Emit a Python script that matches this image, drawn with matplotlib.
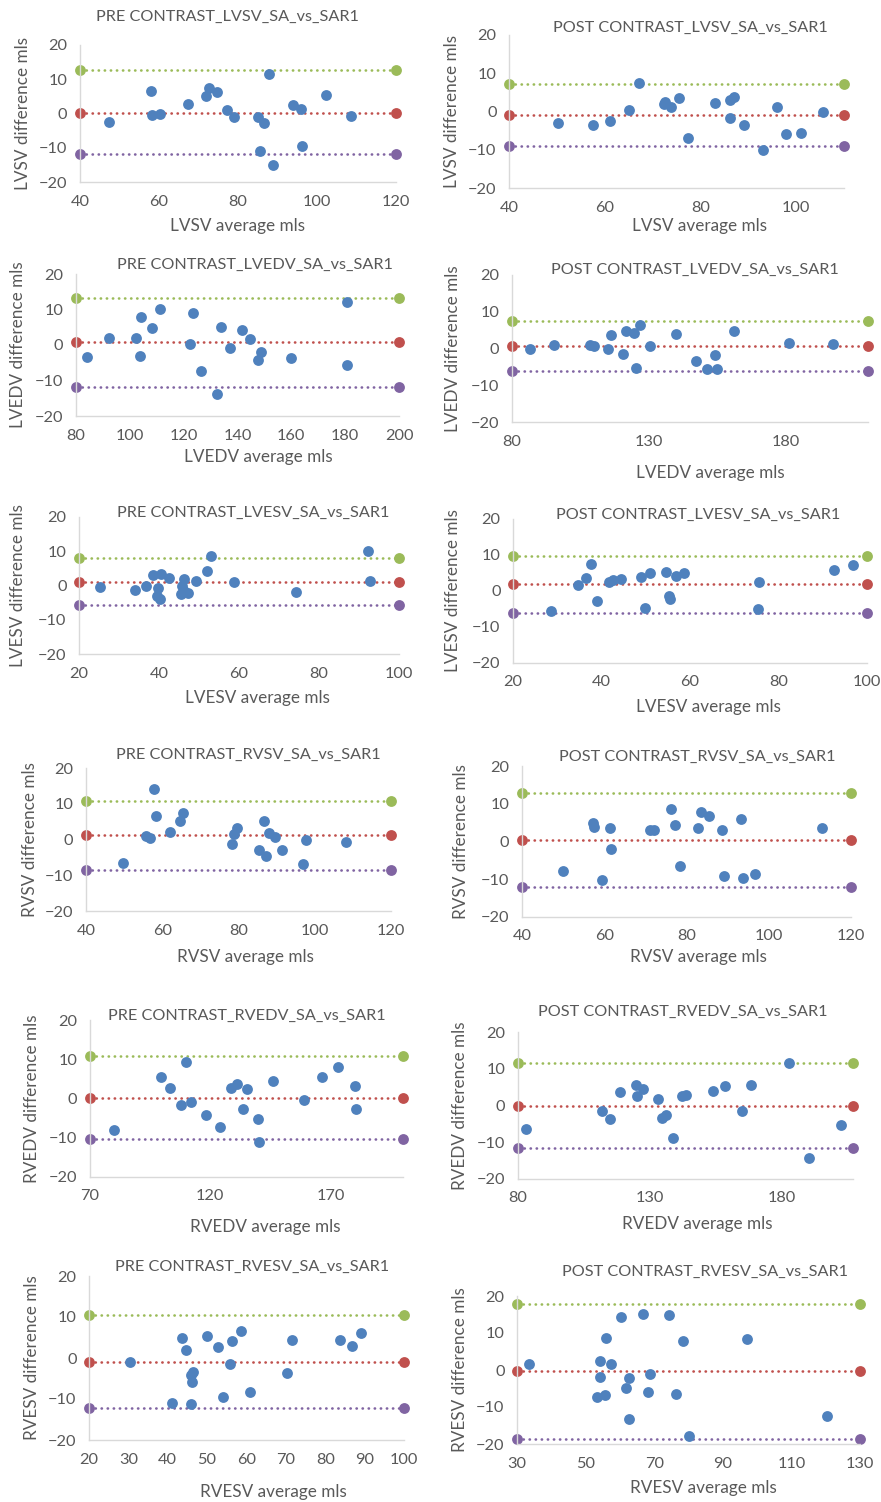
import matplotlib
matplotlib.use("Agg")
import matplotlib.pyplot as plt

plt.rcParams['font.family'] = ['Lato', 'DejaVu Sans']

# --- data (average, difference) ---
pre_lvsv_avg = [58.1, 58.3, 60.3, 47.3, 67.3, 71.9, 72.7, 74.7, 77.1, 79.0,
                85.1, 86.7, 87.8, 85.6, 88.9, 93.8, 95.9, 96.1, 102.3, 108.5]
pre_lvsv_diff = [6.6, -0.3, 0.0, -2.6, 2.8, 5.2, 7.5, 6.3, 1.0, -1.0,
                 -1.0, -2.8, 11.5, -10.9, -15.0, 2.5, 1.2, -9.6, 5.3, -0.6]
pre_lvsv_loa = [12.7, 0.2, -11.9]

post_lvsv_avg = [50.3, 57.6, 61.1, 65.1, 67.1, 72.4, 72.7, 73.8, 75.5, 77.5,
                 83.1, 86.2, 87.1, 86.2, 89.2, 93.1, 96.1, 97.9, 101.0, 105.7]
post_lvsv_diff = [-3.0, -3.6, -2.5, 0.5, 7.4, 2.0, 2.4, 1.3, 3.5, -6.8,
                  2.2, 3.0, 3.7, -1.7, -3.6, -10.0, 1.3, -5.8, -5.5, -0.1]
post_lvsv_loa = [7.3, -0.9, -9.0]

pre_lvedv_avg = [84.0, 92.2, 102.4, 103.6, 104.1, 108.2, 111.3, 122.4, 123.5, 126.5,
                 132.5, 133.8, 137.2, 141.6, 144.8, 147.8, 148.8, 159.7, 180.6, 180.8]
pre_lvedv_diff = [-3.5, 2.0, 1.9, -3.1, 8.0, 4.7, 10.2, 0.3, 9.1, -7.3,
                  -13.9, 5.2, -0.8, 4.2, 1.8, -4.2, -1.9, -3.6, 12.1, -5.7]
pre_lvedv_loa = [13.2, 0.75, -11.7]

post_lvedv_avg = [86.7, 95.3, 108.4, 109.9, 115.2, 116.2, 120.4, 121.5, 124.5, 125.1,
                  126.8, 130.5, 139.8, 147.3, 151.3, 154.1, 154.9, 161.2, 181.1, 197.1]
post_lvedv_diff = [-0.1, 0.9, 0.9, 0.7, 0.0, 3.6, -1.5, 4.7, 4.2, -5.2,
                   6.4, 0.7, 4.0, -3.5, -5.5, -1.8, -5.5, 4.8, 1.6, 1.2]
post_lvedv_loa = [7.45, 0.64, -6.2]

pre_lvesv_avg = [25.3, 34.1, 36.7, 38.5, 39.75, 39.5, 40.2, 40.5, 42.6, 45.4, 45.8,
                 46.3, 46.25, 47.2, 49.3, 51.9, 53.0, 58.8, 74.3, 92.3, 92.7]
pre_lvesv_diff = [-0.3, -1.3, -0.2, 3.0, -0.6, -3.2, -3.9, 3.3, 2.3, -2.6, -0.2,
                  2.0, -1.5, -2.2, 1.4, 4.3, 8.6, 1.0, -2.0, 9.95, 1.3]
pre_lvesv_loa = [7.9, 1.07, -5.76]

post_lvesv_avg = [28.6, 34.7, 36.5, 37.7, 38.9, 41.6, 42.6, 44.3, 48.9, 49.8,
                  51.0, 54.6, 55.3, 55.5, 56.9, 58.7, 75.6, 75.3, 92.6, 96.8]
post_lvesv_diff = [-5.6, 1.7, 3.5, 7.4, -2.7, 2.6, 3.0, 3.3, 3.8, -4.65,
                   5.1, 5.4, -1.4, -2.3, 4.3, 4.9, 2.5, -5.0, 5.7, 7.35]
post_lvesv_loa = [9.86, 1.86, -6.05]

pre_rvsv_avg = [49.7, 55.8, 56.9, 57.8, 58.4, 62.0, 64.6, 65.4, 78.2, 78.7,
                79.5, 85.3, 86.6, 87.3, 88.0, 89.7, 91.4, 96.8, 97.6, 108.1]
pre_rvsv_diff = [-6.7, 1.0, 0.4, 14.2, 6.5, 2.0, 5.1, 7.5, -1.3, 1.5,
                 3.1, -2.9, 5.3, -4.5, 1.8, 0.65, -2.9, -6.8, -0.2, -0.6]
pre_rvsv_loa = [10.65, 1.2, -8.4]

post_rvsv_avg = [50.0, 57.2, 57.5, 59.4, 61.3, 61.6, 71.2, 72.1, 76.2, 77.3,
                 78.4, 82.9, 83.5, 85.4, 88.6, 89.1, 93.2, 93.8, 96.6, 112.9]
post_rvsv_diff = [-7.7, 5.0, 3.8, -10.1, 3.6, -2.0, 3.0, 3.1, 8.7, 4.4,
                  -6.6, 3.7, 7.7, 6.8, 3.1, -9.1, 6.05, -9.65, -8.7, 3.6]
post_rvsv_loa = [12.85, 0.3, -12.0]

pre_rvedv_avg = [79.8, 99.3, 103.2, 108.0, 109.8, 112.0, 118.1, 124.1, 128.4, 131.1,
                 133.6, 135.1, 139.8, 140.3, 145.9, 158.7, 166.3, 172.8, 180.0, 180.4]
pre_rvedv_diff = [-7.9, 5.5, 2.8, -1.7, 9.3, -1.0, -4.3, -7.2, 2.7, 3.7,
                  -2.55, 2.4, -5.1, -11.1, 4.4, -0.4, 5.6, 7.9, 3.1, -2.55]
pre_rvedv_loa = [10.8, 0.1, -10.4]

post_rvedv_avg = [82.9, 111.9, 114.9, 118.7, 124.8, 125.2, 127.5, 132.9, 134.5, 136.0,
                  138.6, 142.3, 143.7, 153.9, 158.6, 165.0, 168.4, 182.6, 190.2, 202.5]
post_rvedv_diff = [-6.4, -1.45, -3.7, 3.8, 5.45, 2.6, 4.45, 1.7, -3.45, -2.7,
                   -8.8, 2.55, 2.9, 3.9, 5.3, -1.4, 5.55, 11.45, -14.4, -5.2]
post_rvedv_loa = [11.45, 0.0, -11.45]

pre_rvesv_avg = [30.3, 41.1, 43.6, 44.7, 45.8, 46.0, 46.2, 46.5, 50.0, 52.8,
                 54.0, 55.8, 56.4, 58.6, 60.8, 70.3, 71.6, 83.7, 86.7, 89.2]
pre_rvesv_diff = [-1.05, -10.9, 4.8, 2.0, -11.3, -4.1, -5.8, -3.5, 5.4, 2.6,
                  -9.4, -1.5, 4.1, 6.5, -8.2, -3.6, 4.4, 4.4, 3.0, 6.1]
pre_rvesv_loa = [10.5, -0.9, -12.1]

post_rvesv_avg = [33.4, 53.4, 54.1, 54.2, 55.8, 56.0, 57.4, 60.4, 61.8, 62.7,
                  62.7, 66.8, 68.1, 68.8, 74.2, 76.3, 78.3, 80.2, 97.0, 120.3]
post_rvesv_diff = [1.7, -7.3, 2.4, -1.9, -6.7, 8.6, 1.5, 14.3, -4.9, -2.1,
                   -13.2, 15.2, -6.0, -1.2, 14.9, -6.4, 7.9, -17.9, 8.4, -12.3]
post_rvesv_loa = [17.9, -0.35, -18.55]

BLUE = '#4F81BD'
GREEN = '#9BBB59'
RED = '#C0504D'
PURPLE = '#8064A2'
AXIS_GREY = '#D9D9D9'
TEXT_GREY = '#595959'

W, H = 881, 1502

# panel layout in pixels: axes box (left, right, top, bottom), title, ylabel x, xlabel pos
panels = [
    dict(title='PRE CONTRAST_LVSV_SA_vs_SAR1', name='LVSV', x=pre_lvsv_avg, y=pre_lvsv_diff,
         loa=pre_lvsv_loa, xlim=(40, 120), xticks=range(40, 121, 20),
         box=(80, 396, 45, 182), t=(227, 17), yl=23, xl=(237, 226)),
    dict(title='POST CONTRAST_LVSV_SA_vs_SAR1', name='LVSV', x=post_lvsv_avg, y=post_lvsv_diff,
         loa=post_lvsv_loa, xlim=(40, 110), xticks=range(40, 101, 20),
         box=(509, 844, 35, 188), t=(690, 28), yl=452, xl=(700, 226)),
    dict(title='PRE CONTRAST_LVEDV_SA_vs_SAR1', name='LVEDV', x=pre_lvedv_avg, y=pre_lvedv_diff,
         loa=pre_lvedv_loa, xlim=(80, 200), xticks=range(80, 201, 20),
         box=(76, 399, 274, 416), t=(255, 265), yl=18, xl=(258, 457)),
    dict(title='POST CONTRAST_LVEDV_SA_vs_SAR1', name='LVEDV', x=post_lvedv_avg, y=post_lvedv_diff,
         loa=post_lvedv_loa, xlim=(80, 210), xticks=range(80, 181, 50),
         box=(512, 868, 275, 422), t=(695, 270), yl=453, xl=(710, 473)),
    dict(title='PRE CONTRAST_LVESV_SA_vs_SAR1', name='LVESV', x=pre_lvesv_avg, y=pre_lvesv_diff,
         loa=pre_lvesv_loa, xlim=(20, 100), xticks=range(20, 101, 20),
         box=(79, 399, 517, 654), t=(253, 513), yl=18, xl=(257, 698)),
    dict(title='POST CONTRAST_LVESV_SA_vs_SAR1', name='LVESV', x=post_lvesv_avg, y=post_lvesv_diff,
         loa=post_lvesv_loa, xlim=(20, 100), xticks=range(20, 101, 20),
         box=(513, 867, 519, 663), t=(698, 515), yl=453, xl=(708, 707)),
    dict(title='PRE CONTRAST_RVSV_SA_vs_SAR1', name='RVSV', x=pre_rvsv_avg, y=pre_rvsv_diff,
         loa=pre_rvsv_loa, xlim=(40, 120), xticks=range(40, 121, 20),
         box=(86, 391, 768, 911), t=(248, 755), yl=30, xl=(245, 957)),
    dict(title='POST CONTRAST_RVSV_SA_vs_SAR1', name='RVSV', x=post_rvsv_avg, y=post_rvsv_diff,
         loa=post_rvsv_loa, xlim=(40, 120), xticks=range(40, 121, 20),
         box=(522, 851, 766, 917), t=(697, 757), yl=461, xl=(698, 957)),
    dict(title='PRE CONTRAST_RVEDV_SA_vs_SAR1', name='RVEDV', x=pre_rvedv_avg, y=pre_rvedv_diff,
         loa=pre_rvedv_loa, xlim=(70, 200), xticks=range(70, 171, 50),
         box=(90, 403, 1020, 1177), t=(247, 1016), yl=32, xl=(265, 1227)),
    dict(title='POST CONTRAST_RVEDV_SA_vs_SAR1', name='RVEDV', x=post_rvedv_avg, y=post_rvedv_diff,
         loa=post_rvedv_loa, xlim=(80, 207), xticks=range(80, 181, 50),
         box=(518, 853, 1032, 1179), t=(683, 1012), yl=460, xl=(697, 1224)),
    dict(title='PRE CONTRAST_RVESV_SA_vs_SAR1', name='RVESV', x=pre_rvesv_avg, y=pre_rvesv_diff,
         loa=pre_rvesv_loa, xlim=(20, 100), xticks=range(20, 101, 10),
         box=(89, 404, 1276, 1440), t=(252, 1267), yl=32, xl=(273, 1492)),
    dict(title='POST CONTRAST_RVESV_SA_vs_SAR1', name='RVESV', x=post_rvesv_avg, y=post_rvesv_diff,
         loa=post_rvesv_loa, xlim=(30, 130), xticks=range(30, 131, 20),
         box=(517, 860, 1296, 1444), t=(705, 1272), yl=460, xl=(703, 1488)),
]

fig = plt.figure(figsize=(W / 100, H / 100), dpi=100)
fig.patch.set_facecolor('white')

dot = (0, (0.1, 2.2))

for p in panels:
    left, right, top, bottom = p['box']
    ax = fig.add_axes([left / W, 1 - bottom / H, (right - left) / W, (bottom - top) / H])
    ax.set_facecolor('none')
    x0, x1 = p['xlim']
    upper, mean, lower = p['loa']

    for val, col in [(upper, GREEN), (mean, RED), (lower, PURPLE)]:
        ax.plot([x0, x1], [val, val], color=col, lw=1.9, linestyle=dot,
                dash_capstyle='round', marker='o', markersize=7.8,
                markeredgewidth=0, clip_on=False, zorder=2)

    ax.plot(p['x'], p['y'], 'o', color=BLUE, markersize=7.8, markeredgewidth=0,
            clip_on=False, zorder=3)

    ax.set_xlim(x0, x1)
    ax.set_ylim(-20, 20)
    ax.set_xticks(list(p['xticks']))
    ax.set_yticks([-20, -10, 0, 10, 20])
    for s in ['top', 'right']:
        ax.spines[s].set_visible(False)
    for s in ['left', 'bottom']:
        ax.spines[s].set_color(AXIS_GREY)
        ax.spines[s].set_linewidth(1.0)
    ax.tick_params(length=0, labelsize=11.8, colors=TEXT_GREY)
    ax.tick_params(axis='x', pad=9)
    ax.tick_params(axis='y', pad=9)

    fig.text(p['t'][0] / W, 1 - p['t'][1] / H, p['title'], ha='center', va='center',
             fontsize=11.7, color=TEXT_GREY)
    fig.text(p['xl'][0] / W, 1 - p['xl'][1] / H, p['name'] + ' average mls',
             ha='center', va='center', fontsize=12.3, color=TEXT_GREY)
    fig.text(p['yl'] / W, 1 - (top + bottom) / 2 / H, p['name'] + ' difference mls',
             ha='center', va='center', rotation=90, fontsize=12.3, color=TEXT_GREY)

fig.savefig('out.png', dpi=100)
